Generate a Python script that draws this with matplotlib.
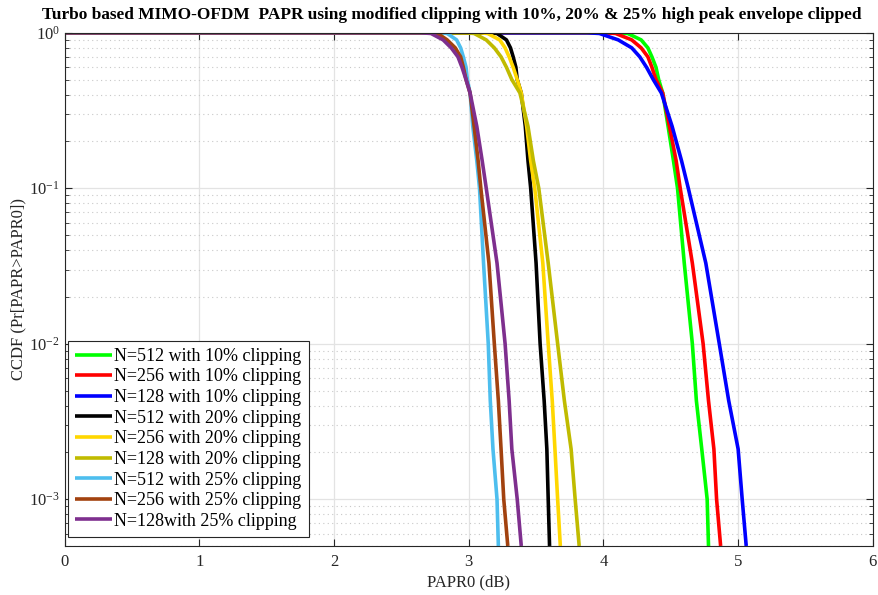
import numpy as np
import matplotlib
matplotlib.use('Agg')
from matplotlib import pyplot as plt
from matplotlib.ticker import LogLocator, NullFormatter

plt.rcParams['font.family'] = ['Liberation Serif', 'DejaVu Serif']
plt.rcParams['mathtext.fontset'] = 'custom'
plt.rcParams['mathtext.rm'] = 'Liberation Serif'

# CCDF levels shared by all curves
ccdf = [1.0, 1.0, 0.99, 0.9, 0.8, 0.7, 0.6, 0.5, 0.41, 0.25, 0.15, 0.1,
        0.033, 0.01, 0.0043, 0.0021, 0.001, 0.0005]

# PAPR0 (dB) where each curve reaches the levels above
papr_512_10 = [0, 4.10, 4.18, 4.28, 4.33, 4.36, 4.39, 4.41, 4.44, 4.48, 4.52, 4.55, 4.60, 4.66, 4.69, 4.73, 4.77, 4.78]
papr_256_10 = [0, 4.00, 4.09, 4.21, 4.28, 4.33, 4.36, 4.39, 4.44, 4.49, 4.54, 4.57, 4.66, 4.74, 4.78, 4.82, 4.84, 4.87]
papr_128_10 = [0, 3.88, 3.97, 4.11, 4.21, 4.27, 4.32, 4.37, 4.43, 4.51, 4.58, 4.63, 4.76, 4.86, 4.93, 5.00, 5.03, 5.06]
papr_512_20 = [0, 3.16, 3.21, 3.28, 3.31, 3.33, 3.35, 3.36, 3.39, 3.42, 3.44, 3.46, 3.50, 3.53, 3.56, 3.58, 3.59, 3.60]
papr_256_20 = [0, 3.08, 3.14, 3.23, 3.27, 3.30, 3.33, 3.36, 3.39, 3.43, 3.46, 3.49, 3.55, 3.59, 3.62, 3.64, 3.66, 3.68]
papr_128_20 = [0, 2.98, 3.04, 3.13, 3.19, 3.24, 3.28, 3.32, 3.38, 3.44, 3.48, 3.52, 3.59, 3.66, 3.71, 3.76, 3.79, 3.82]
papr_512_25 = [0, 2.79, 2.84, 2.91, 2.94, 2.96, 2.98, 2.99, 3.01, 3.03, 3.06, 3.08, 3.11, 3.145, 3.16, 3.18, 3.21, 3.22]
papr_256_25 = [0, 2.70, 2.77, 2.84, 2.90, 2.94, 2.96, 2.98, 3.01, 3.04, 3.07, 3.09, 3.15, 3.19, 3.22, 3.24, 3.26, 3.29]
papr_128_25 = [0, 2.64, 2.72, 2.81, 2.87, 2.92, 2.95, 2.98, 3.01, 3.06, 3.10, 3.13, 3.21, 3.27, 3.30, 3.32, 3.36, 3.39]

etiquetas = [
    'N=512 with 10% clipping',
    'N=256 with 10% clipping',
    'N=128 with 10% clipping',
    'N=512 with 20% clipping',
    'N=256 with 20% clipping',
    'N=128 with 20% clipping',
    'N=512 with 25% clipping',
    'N=256 with 25% clipping',
    'N=128with 25% clipping',
]
series = [papr_512_10, papr_256_10, papr_128_10,
          papr_512_20, papr_256_20, papr_128_20,
          papr_512_25, papr_256_25, papr_128_25]
colores = ['#00ff00', '#ff0000', '#0000ff',
           '#000000', '#ffd700', '#c0bb00',
           '#4dbeee', '#a2420f', '#7e2f8e']

fig = plt.figure(figsize=(8.79, 5.95), dpi=100)
ax = fig.add_axes([0.0735, 0.0824, 0.9195, 0.8625])

for x, c, lab in zip(series, colores, etiquetas):
    ax.plot(x, ccdf, color=c, linewidth=2.6, label=lab,
            solid_joinstyle='round', solid_capstyle='butt')

ax.set_yscale('log')
ax.set_xlim(0, 6)
ax.set_ylim(5e-4, 1)
ax.yaxis.set_major_locator(LogLocator(base=10, numticks=10))
ax.yaxis.set_minor_locator(LogLocator(base=10, subs=np.arange(2, 10), numticks=10))
ax.yaxis.set_minor_formatter(NullFormatter())

ax.grid(True, which='major', color='#e3e3e3', linewidth=0.9, linestyle='-')
ax.grid(True, which='minor', axis='y', color='#c8c8c8', linewidth=0.8, linestyle=(0, (1, 3)))
ax.set_axisbelow(True)

ax.tick_params(which='both', direction='in', top=True, right=True,
               labelsize=12, colors='#262626')
ax.tick_params(which='major', length=5)
ax.tick_params(which='minor', length=3)
ax.tick_params(axis='x', pad=6)
for s in ax.spines.values():
    s.set_color('#262626')
    s.set_linewidth(0.8)

ax.set_xlabel('PAPR0 (dB)', fontsize=12, color='#262626', labelpad=3)
ax.set_ylabel('CCDF (Pr[PAPR>PAPR0])', fontsize=12, color='#262626', labelpad=2)
fig.text(0.5145, 1 - 15 / 595,
         'Turbo based MIMO-OFDM  PAPR using modified clipping with 10%, 20% & 25% high peak envelope clipped',
         fontsize=12.4, fontweight='bold', ha='center', va='center')

leg = ax.legend(loc='lower left', bbox_to_anchor=(0.004, 0.0175), borderaxespad=0,
                fontsize=13, handlelength=2.05, handletextpad=0.12,
                labelspacing=0.2, borderpad=0.4,
                fancybox=False, framealpha=1, edgecolor='#262626')
leg.get_frame().set_linewidth(0.8)

fig.savefig('out.png', dpi=100)
